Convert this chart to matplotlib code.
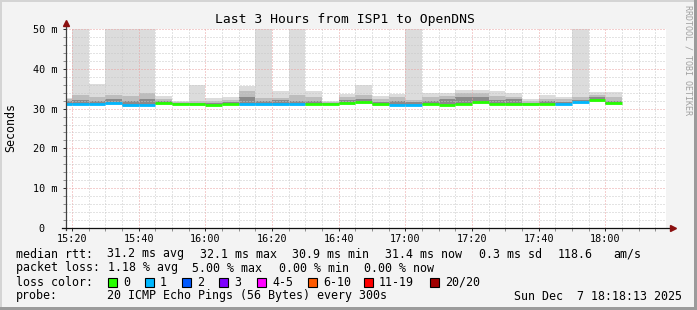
import matplotlib
matplotlib.use("Agg")
import matplotlib.pyplot as plt
from matplotlib.patches import Rectangle
import numpy as np

# SmokePing: Last 3 Hours from ISP1 to OpenDNS
# time in minutes after 15:00, one bar per 5 minute step
t_start = 18 + 13 / 60          # 15:18:13
t_end = 198 + 13 / 60           # 18:18:13
bar_start = list(range(15, 185, 5))   # 15:15 ... 18:00

median = [31.2, 31.2, 31.2, 31.5, 30.9, 31.0, 31.5, 31.2, 31.1, 31.0, 31.2, 31.1,
          31.1, 31.1, 31.1, 31.2, 31.2, 31.3, 31.7, 31.1, 31.0, 31.0, 31.2, 31.0,
          31.2, 31.7, 31.2, 31.1, 31.1, 31.1, 31.2, 31.7, 32.1, 31.3]
loss = [1, 1, 1, 1, 1, 1, 0, 0, 0, 0, 0, 1, 1, 1, 1, 0, 0, 0, 0, 0, 1, 1, 0, 0,
        0, 0, 0, 0, 0, 0, 1, 1, 0, 0]
ping_max = [32.6, 58, 36.2, 58, 58, 58, 33.2, 31.8, 35.9, 32.6, 32.8, 35.7,
            58, 34.3, 58, 34.5, 32.0, 33.7, 36.0, 33.2, 33.7, 58, 33.8, 34.0,
            34.7, 34.7, 34.3, 34.0, 32.3, 33.5, 33.0, 58, 34.2, 34.2]
ping_p90 = [32.3, 33.3, 33.0, 33.5, 33.2, 34.0, 32.5, 31.6, 32.0, 31.8, 32.2, 34.3,
            32.7, 32.6, 33.3, 33.0, 31.7, 33.0, 33.3, 32.3, 32.8, 32.2, 33.0, 33.2,
            34.0, 33.8, 33.2, 33.0, 31.8, 32.5, 32.3, 33.0, 33.5, 33.0]
ping_p75 = [31.8, 32.2, 32.0, 32.3, 32.0, 32.5, 31.9, 31.4, 31.5, 31.4, 31.7, 32.8,
            31.9, 32.1, 32.0, 32.0, 31.5, 32.2, 32.4, 31.7, 31.9, 31.6, 32.0, 32.3,
            33.0, 32.8, 32.2, 32.3, 31.5, 31.9, 31.7, 32.2, 32.8, 32.0]
ping_p10 = [30.9, 31.0, 31.0, 31.2, 30.7, 30.8, 31.2, 31.0, 30.9, 30.8, 31.0, 30.9,
            30.9, 30.9, 30.9, 31.0, 31.0, 31.1, 31.4, 30.9, 30.8, 30.8, 31.0, 30.8,
            31.0, 31.4, 31.0, 30.9, 30.9, 30.9, 31.0, 31.4, 31.8, 31.1]
ping_min = [30.7, 30.8, 30.8, 31.0, 30.5, 30.6, 31.0, 30.9, 30.7, 30.7, 30.8, 30.6,
            30.7, 30.7, 30.7, 30.8, 30.9, 30.9, 31.2, 30.7, 30.6, 30.6, 30.8, 30.6,
            30.8, 31.2, 30.8, 30.7, 30.7, 30.8, 30.8, 31.2, 31.6, 30.9]

loss_labels = ["0", "1", "2", "3", "4-5", "6-10", "11-19", "20/20"]
loss_colors = ["#26ff00", "#00b8ff", "#0059ff", "#7e00ff", "#ff00ff", "#ff5a00",
               "#ff0000", "#a10000"]

x_ticks = list(range(20, 181, 20))
x_labels = ["15:20", "15:40", "16:00", "16:20", "16:40", "17:00", "17:20", "17:40", "18:00"]
y_ticks = [0, 10, 20, 30, 40, 50]
y_labels = ["0  ", "10 m", "20 m", "30 m", "40 m", "50 m"]

stats_rtt = ["31.2 ms avg", "32.1 ms max", "30.9 ms min", "31.4 ms now", "0.3 ms sd", "118.6", "am/s"]
stats_loss = ["1.18 % avg", "5.00 % max", "0.00 % min", "0.00 % now"]

MONO = "DejaVu Sans Mono"
W, H = 697, 310

fig = plt.figure(figsize=(W / 100, H / 100), dpi=100, facecolor="#f3f3f3")
ax = fig.add_axes([66 / W, 82 / H, 600 / W, 199 / H])
ax.set_facecolor("white")

# smoke layers
b = np.array(bar_start)
ax.bar(b, np.array(ping_max) - np.array(ping_min), bottom=ping_min, width=5,
       align="edge", color="#dcdcdc", linewidth=0, zorder=1)
ax.bar(b, np.array(ping_p90) - np.array(ping_p10), bottom=ping_p10, width=5,
       align="edge", color="#bdbdbd", linewidth=0, zorder=1)
ax.bar(b, np.array(ping_p75) - np.array(ping_p10), bottom=ping_p10, width=5,
       align="edge", color="#8a8a8a", linewidth=0, zorder=1)

# median colored by loss
for s, m, l in zip(bar_start, median, loss):
    ax.hlines(m, s, s + 5, color=loss_colors[l], linewidth=2.0, zorder=4)

ax.set_xlim(t_start, t_end)
ax.set_ylim(0, 50)

ax.set_xticks(x_ticks)
ax.set_xticklabels(x_labels, fontfamily=MONO, fontsize=7.3)
ax.set_xticks(range(20, 200, 5), minor=True)
ax.set_yticks(y_ticks)
ax.set_yticklabels(y_labels, fontfamily=MONO, fontsize=7.3)
ax.set_yticks(range(0, 51, 2), minor=True)

ax.grid(which="minor", color="#c8c8c8", linestyle=(0, (1, 2)), linewidth=0.72)
ax.grid(which="major", color="#eba0a0", linestyle=(0, (1, 2)), linewidth=0.72)
ax.tick_params(which="both", length=2, width=0.72, color="#909090")
ax.tick_params(axis="x", which="major", pad=2, color="#303030")
ax.tick_params(axis="y", which="major", pad=4, color="#303030")
for sp in ax.spines.values():
    sp.set_visible(False)

# axis lines with arrows
ax.plot([0, 0], [-0.01, 1.025], transform=ax.transAxes, color="#404040",
        linewidth=0.9, clip_on=False, zorder=5)
ax.plot([-0.007, 1.008], [0, 0], transform=ax.transAxes, color="#101010",
        linewidth=0.9, clip_on=False, zorder=5)
ax.plot([0], [1.028], marker="^", markersize=4.5, color="#8b1010",
        transform=ax.transAxes, clip_on=False, zorder=6)
ax.plot([1.011], [0], marker=">", markersize=4.5, color="#8b1010",
        transform=ax.transAxes, clip_on=False, zorder=6)

# overlay in pixel coordinates for texts and frame
ov = fig.add_axes([0, 0, 1, 1], zorder=-1)
ov.set_xlim(0, W)
ov.set_ylim(H, 0)
ov.axis("off")
ov.patch.set_alpha(0)

ov.add_patch(Rectangle((0, 0), W, 2, color="#d4d4d4", linewidth=0))
ov.add_patch(Rectangle((0, 0), 2, H, color="#d4d4d4", linewidth=0))
ov.add_patch(Rectangle((694, 0), 3, H, color="#9b9b9b", linewidth=0))
ov.add_patch(Rectangle((0, 307), W, 3, color="#9b9b9b", linewidth=0))

ov.text(345, 19, "Last 3 Hours from ISP1 to OpenDNS", ha="center", va="center",
        fontfamily=MONO, fontsize=9.4)
ov.text(11, 127, "Seconds", rotation=90, ha="center", va="center",
        fontfamily=MONO, fontsize=8.4)
ov.text(688, 5, "RRDTOOL / TOBI OETIKER", rotation=270, ha="center", va="top",
        fontfamily=MONO, fontsize=6, color="#a0a0a0")

fs = 8.4
ov.text(16, 254, "median rtt:", va="center", fontfamily=MONO, fontsize=fs)
for x, s in zip([107, 200, 292, 385, 479, 558, 613], stats_rtt):
    ov.text(x, 254, s, va="center", fontfamily=MONO, fontsize=fs)

ov.text(16, 268, "packet loss:", va="center", fontfamily=MONO, fontsize=fs)
for x, s in zip([108, 192, 279, 364], stats_loss):
    ov.text(x, 268, s, va="center", fontfamily=MONO, fontsize=fs)

ov.text(16, 282, "loss color:", va="center", fontfamily=MONO, fontsize=fs)
box_x = [108, 145, 182, 219, 257, 308, 364, 430]
for x, lab, col in zip(box_x, loss_labels, loss_colors):
    ov.add_patch(Rectangle((x, 278), 9, 9, facecolor=col, edgecolor="black", linewidth=0.8))
    ov.text(x + 15, 282, lab, va="center", fontfamily=MONO, fontsize=fs)

ov.text(16, 296, "probe:", va="center", fontfamily=MONO, fontsize=fs)
ov.text(107, 296, "20 ICMP Echo Pings (56 Bytes) every 300s", va="center",
        fontfamily=MONO, fontsize=fs)
ov.text(682, 296, "Sun Dec  7 18:18:13 2025", ha="right", va="center",
        fontfamily=MONO, fontsize=fs)

fig.savefig("out.png", dpi=100, facecolor=fig.get_facecolor())
